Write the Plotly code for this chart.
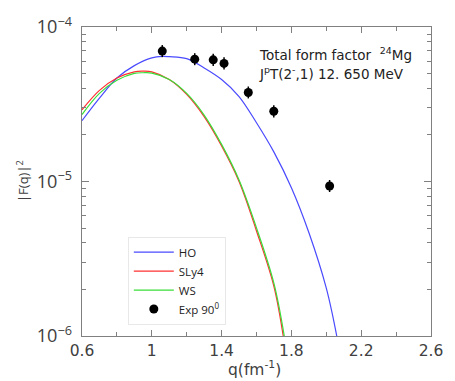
import plotly.graph_objects as go

# Theory curves (q in fm^-1, |F(q)|^2)
q_ho = [0.60, 0.70, 0.80, 0.90, 1.00, 1.06, 1.10, 1.20, 1.30, 1.40, 1.50, 1.60, 1.70, 1.80, 1.90, 2.00, 2.06]
f_ho = [2.477e-5, 3.467e-5, 4.677e-5, 5.623e-5, 6.310e-5, 6.457e-5, 6.427e-5, 6.237e-5, 5.433e-5,
        4.571e-5, 3.548e-5, 2.399e-5, 1.549e-5, 9.12e-6, 4.677e-6, 2.042e-6, 1.0e-6]

q_sly4 = [0.60, 0.70, 0.80, 0.90, 0.95, 1.00, 1.10, 1.20, 1.30, 1.40, 1.50, 1.60, 1.70, 1.76]
f_sly4 = [2.911e-5, 3.890e-5, 4.677e-5, 5.129e-5, 5.176e-5, 5.129e-5, 4.571e-5, 3.664e-5, 2.630e-5,
          1.698e-5, 1.0e-5, 4.786e-6, 2.089e-6, 8.913e-7]

q_ws = [0.60, 0.70, 0.80, 0.90, 0.95, 1.00, 1.10, 1.20, 1.30, 1.40, 1.50, 1.60, 1.70, 1.765]
f_ws = [2.710e-5, 3.715e-5, 4.519e-5, 5.012e-5, 5.058e-5, 5.035e-5, 4.571e-5, 3.715e-5, 2.692e-5,
        1.738e-5, 1.023e-5, 5.012e-6, 2.188e-6, 9.12e-7]

# Experimental data (90 deg)
q_exp = [1.06, 1.246, 1.352, 1.414, 1.553, 1.699, 2.019]
f_exp = [6.98e-5, 6.19e-5, 6.13e-5, 5.81e-5, 3.77e-5, 2.85e-5, 9.35e-6]
err_up = [6.6e-6, 5.8e-6, 5.8e-6, 5.5e-6, 3.5e-6, 2.7e-6, 8.8e-7]
err_dn = [6.0e-6, 5.3e-6, 5.3e-6, 5.0e-6, 3.2e-6, 2.5e-6, 8.0e-7]

x_tickvals = [0.6, 1.0, 1.4, 1.8, 2.2, 2.6]
x_ticktext = ["0.6", "1", "1.4", "1.8", "2.2", "2.6"]

FONT = "Open Sans"
WIDE = "DejaVu Sans"
TXT = "#404040"

fig = go.Figure()
fig.add_trace(go.Scatter(x=q_ho, y=f_ho, mode="lines", name="HO",
                         line=dict(color="#4a4aff", width=1.2, shape="spline")))
fig.add_trace(go.Scatter(x=q_sly4, y=f_sly4, mode="lines", name="SLy4",
                         line=dict(color="#ff3030", width=1.2, shape="spline")))
fig.add_trace(go.Scatter(x=q_ws, y=f_ws, mode="lines", name="WS",
                         line=dict(color="#3ade3a", width=1.2, shape="spline")))
fig.add_trace(go.Scatter(x=q_exp, y=f_exp, mode="markers", name="Exp 90<sup>0</sup>",
                         marker=dict(color="black", size=9, symbol="circle"),
                         error_y=dict(type="data", symmetric=False, array=err_up, arrayminus=err_dn,
                                      color="black", thickness=1.5, width=0)))

L, R, T, B = 82, 15, 16, 45
W, H = 455, 381
pw = W - L - R
ph = H - T - B

def px_x(px):
    return (px - L) / pw

def px_y(py):
    return (H - B - py) / ph

fig.update_layout(
    width=W, height=H,
    margin=dict(l=L, r=R, t=T, b=B),
    paper_bgcolor="white", plot_bgcolor="white",
    font=dict(family=FONT, size=13, color=TXT),
    showlegend=True,
    legend=dict(x=px_x(129), y=px_y(233), xanchor="left", yanchor="top",
                bgcolor="rgba(255,255,255,0)", bordercolor="#e8e8e8", borderwidth=1,
                font=dict(family=FONT, size=11.5, color="#222"), tracegroupgap=0,
                itemwidth=40, entrywidth=110),
    xaxis=dict(range=[0.6, 2.6], tickmode="array", tickvals=x_tickvals, ticktext=x_ticktext,
               ticks="inside", ticklen=6, tickwidth=1.2, tickcolor="#808080",
               showline=True, linecolor="#808080", linewidth=1.3, mirror="ticks",
               showgrid=False, zeroline=False,
               tickfont=dict(family=WIDE, size=15.5, color=TXT),
               minor=dict(ticks="inside", ticklen=4, tickwidth=1, tickcolor="#808080",
                          tickvals=[0.8, 1.2, 1.6, 2.0, 2.4], showgrid=False)),
    yaxis=dict(type="log", range=[-6, -4], dtick=1, exponentformat="power",
               ticks="inside", ticklen=7, tickwidth=1.2, tickcolor="#808080",
               showline=True, linecolor="#808080", linewidth=1.3, mirror="ticks",
               showgrid=False, zeroline=False, ticklabelstandoff=6,
               tickfont=dict(family=FONT, size=14.5, color=TXT),
               minor=dict(ticks="inside", ticklen=4, tickwidth=1, tickcolor="#808080",
                          dtick="D1", showgrid=False)),
    annotations=[
        dict(text="|F(q)|<sup>2</sup>", xref="paper", yref="paper", x=px_x(21), y=0.5,
             textangle=-90, showarrow=False, font=dict(family=FONT, size=13, color=TXT),
             xanchor="center", yanchor="middle"),
        dict(text="q(fm<sup>-1</sup>)", xref="paper", yref="paper", x=px_x(259), y=px_y(370),
             showarrow=False, font=dict(family=WIDE, size=15.5, color=TXT),
             xanchor="center", yanchor="middle"),
        dict(text="Total form factor  <sup>24</sup>Mg", xref="paper", yref="paper",
             x=px_x(261), y=px_y(44), xanchor="left", yanchor="middle", showarrow=False,
             font=dict(family=WIDE, size=13.5, color="#222")),
        dict(text="J<sup>p</sup>T(2<sup>-</sup>,1) 12. 650 MeV", xref="paper", yref="paper",
             x=px_x(261), y=px_y(64), xanchor="left", yanchor="middle", showarrow=False,
             font=dict(family=WIDE, size=13.5, color="#222")),
    ],
)

fig.write_html("out.html")
